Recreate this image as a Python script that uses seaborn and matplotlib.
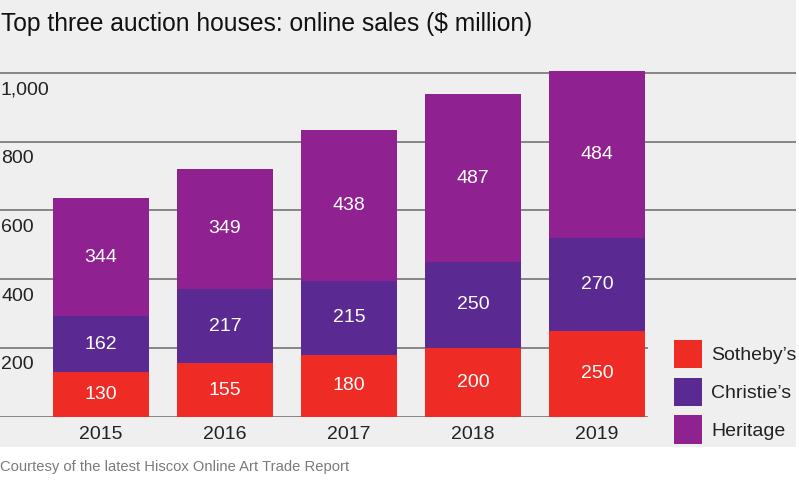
import matplotlib
matplotlib.use("Agg")
import matplotlib.pyplot as plt
import matplotlib.patches as mpatches
import pandas as pd
import seaborn as sns

# --- data ---
years = ["2015", "2016", "2017", "2018", "2019"]
sothebys = [130, 155, 180, 200, 250]
christies = [162, 217, 215, 250, 270]
heritage = [344, 349, 438, 487, 484]
house_names = ["Sotheby\u2019s", "Christie\u2019s", "Heritage"]
house_colors = ["#ee2b24", "#5a2a92", "#8f2290"]
ytick_values = [200, 400, 600, 800, 1000]
ytick_labels = ["200", "400", "600", "800", "1,000"]

title = "Top three auction houses: online sales ($ million)"
caption = "Courtesy of the latest Hiscox Online Art Trade Report"

sns.set_style("white")
plt.rcParams["font.family"] = ["Liberation Sans", "DejaVu Sans"]

W, H = 799, 483
fig = plt.figure(figsize=(W / 100, H / 100), dpi=100, facecolor="white")

# grey panel behind the chart
fig.patches.append(mpatches.Rectangle((0, 1 - 447 / H), 796 / W, 447 / H,
                                      transform=fig.transFigure, facecolor="#efefef",
                                      edgecolor="none", zorder=-10))

base_px = 416.7
top_px = 60
px_per_unit = 0.344
ax = fig.add_axes([0, 1 - base_px / H, 796 / W, (base_px - top_px) / H])
ax.set_facecolor("none")

df = pd.DataFrame({"year": years, "Sotheby": sothebys,
                   "Christie": christies, "Heritage": heritage})
df["c1"] = df["Sotheby"]
df["c2"] = df["c1"] + df["Christie"]
df["c3"] = df["c2"] + df["Heritage"]

for col, color in zip(["c3", "c2", "c1"], house_colors[::-1]):
    sns.barplot(data=df, x="year", y=col, color=color, saturation=1,
                width=0.77, linewidth=0, edgecolor="none", ax=ax, zorder=3)

# axis limits: bar centres at 101 px, pitch 124 px
x_left = -101 / 124
x_right = (796 - 101) / 124
ax.set_xlim(x_left, x_right)
ax.set_ylim(0, (base_px - top_px) / px_per_unit)

# gridlines (the lower two stop at the legend)
x_short = (648 - 101) / 124
for v in [0] + ytick_values:
    xmax = x_short if v <= 200 else x_right
    ax.hlines(v, x_left, xmax, color="#7d7d7d", lw=1.3, zorder=1)

# value labels in the segments
for i in range(len(years)):
    bottoms = [0, df["c1"][i], df["c2"][i]]
    for b, v in zip(bottoms, [sothebys[i], christies[i], heritage[i]]):
        ax.text(i, b + v / 2, str(v), ha="center", va="center",
                color="white", fontsize=14, zorder=5)

# y labels sit just under their gridlines
for v, lab in zip(ytick_values, ytick_labels):
    ax.annotate(lab, xy=(0, v), xycoords=("axes fraction", "data"),
                xytext=(1, -17), textcoords="offset pixels",
                ha="left", va="center", fontsize=14, color="#222222")

ax.set_yticks([])
ax.set_xlabel("")
ax.set_ylabel("")
ax.tick_params(axis="x", length=0, pad=7, labelsize=14, labelcolor="#222222")
sns.despine(ax=ax, left=True, bottom=True)

handles = [mpatches.Patch(facecolor=c, edgecolor="none") for c in house_colors]
ax.legend(handles, house_names, loc="upper left",
          bbox_to_anchor=(674 / W, 1 - 340 / H), bbox_transform=fig.transFigure,
          frameon=False, fontsize=14, handlelength=1.42, handleheight=1.84,
          labelspacing=0.5, handletextpad=0.5, borderpad=0, borderaxespad=0,
          labelcolor="#222222")

fig.text(1 / W, 1 - 24 / H, title, ha="left", va="center", fontsize=17.7,
         color="#111111")
fig.text(0 / W, 1 - 467 / H, caption, ha="left", va="center", fontsize=10.6,
         color="#7a7a7a")

fig.savefig("out.png", dpi=100, facecolor="white")
